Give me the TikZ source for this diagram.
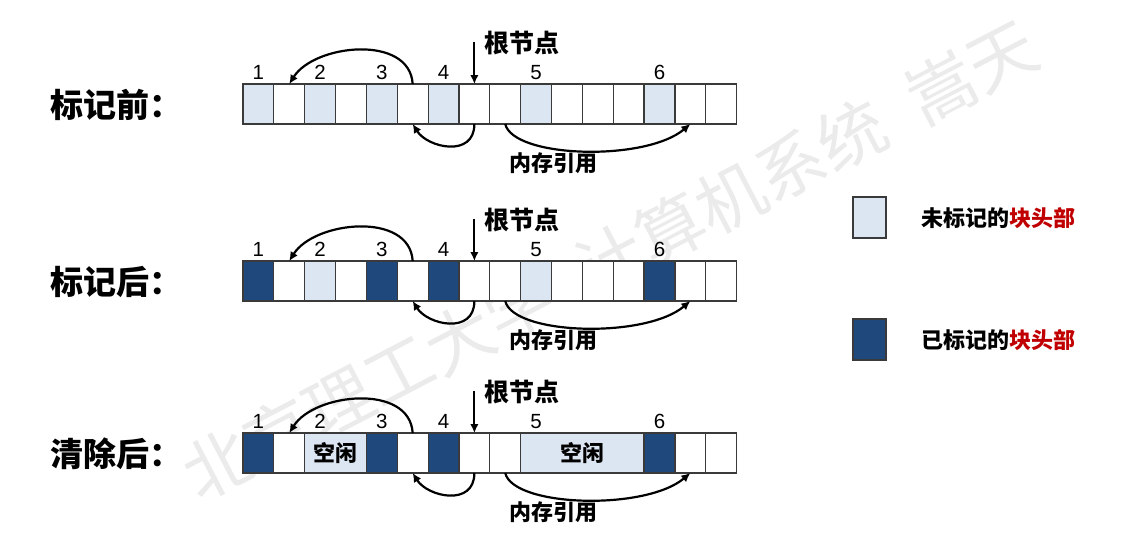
\documentclass[tikz,border=0pt]{standalone}
\usepackage{fontspec}
\setmainfont{Liberation Sans}
\newfontfamily\cjk{Noto Sans CJK SC}
\usetikzlibrary{arrows.meta}
\definecolor{lightc}{HTML}{DCE6F2}
\definecolor{darkc}{HTML}{1F497D}
\definecolor{redc}{HTML}{C00000}
\definecolor{edgec}{HTML}{3A3A3A}
\begin{document}
\begin{tikzpicture}[x=1pt,y=-1pt,
  cell/.style={draw=edgec, line width=1.2pt, minimum height=40pt, minimum width=30.85pt, inner sep=0pt, outer sep=0pt},
  ptr/.style={line width=2.2pt, -{Latex[length=9pt,width=8.5pt]}},
  digit/.style={font=\fontsize{20.5}{20.5}\selectfont, anchor=base, inner sep=0pt},
  rootlbl/.style={font=\cjk\bfseries\fontsize{25}{25}\selectfont, anchor=west, inner sep=0pt},
  reflbl/.style={font=\cjk\bfseries\fontsize{22}{22}\selectfont, inner sep=0pt},
  rowlbl/.style={font=\cjk\bfseries\fontsize{33}{33}\selectfont, anchor=west, inner sep=0pt},
  legtxt/.style={font=\cjk\bfseries\fontsize{22}{22}\selectfont, anchor=west, inner sep=0pt}
]
\useasboundingbox (0,0) rectangle (1123,533);
% watermark
\node[rotate=27.5, text=black!8, font=\cjk\fontsize{68}{68}\selectfont, inner sep=0pt] (wm) at (610,260) {北京理工大学\hspace{0.5em}计算机系统\hspace{0.5em}嵩天};

% row a : before marking
\foreach \i/\f in {0/lightc,1/white,2/lightc,3/white,4/lightc,5/white,6/lightc,7/white,8/white,9/lightc,10/white,11/white,12/white,13/lightc,14/white,15/white}
  \node[cell, fill=\f] (a\i) at ({243+(\i+0.5)*30.85},104) {};
% row b : after marking
\foreach \i/\f in {0/darkc,1/white,2/lightc,3/white,4/darkc,5/white,6/darkc,7/white,8/white,9/lightc,10/white,11/white,12/white,13/darkc,14/white,15/white}
  \node[cell, fill=\f] (b\i) at ({243+(\i+0.5)*30.85},281) {};
% row c : after sweeping
\foreach \i/\f in {0/darkc,1/white,4/darkc,5/white,6/darkc,7/white,8/white,13/darkc,14/white,15/white}
  \node[cell, fill=\f] (c\i) at ({243+(\i+0.5)*30.85},453) {};
\node[cell, fill=lightc, minimum width=61.7pt, font=\cjk\bfseries\fontsize{22}{22}\selectfont] (c23) at ({243+3*30.85},453) {空闲};
\node[cell, fill=lightc, minimum width=123.4pt, font=\cjk\bfseries\fontsize{22}{22}\selectfont] (c912) at ({243+11*30.85},453) {空闲};

\foreach \r/\d in {a/0,b/177,c/349}{
  \foreach \i/\n in {0/1,2/2,4/3,6/4,9/5,13/6}
    \node[digit] (\r n\n) at ({243+(\i+0.5)*30.85},{79+\d}) {\n};
  \node[rootlbl] (\r-root) at (484,{43+\d}) {根节点};
  \coordinate (\r-top) at ({243+7.5*30.85},{42+\d});
  \draw[ptr, line width=2pt] (\r-top) -- (\r7.north);
  \draw[ptr] (\r5.north) .. controls +(-3,-50) and +(25,-40) .. (\r1.north);
  \draw[ptr] (\r7.south) .. controls +(0,34) and +(15,24) .. (\r5.south);
  \draw[ptr] (\r8.south) .. controls +(8,34) and +(-45,38) .. (\r14.south);
  \node[reflbl] (\r-ref) at (553,{163+\d}) {内存引用};
}

\node[rowlbl] (la) at (50,105) {标记前：};
\node[rowlbl] (lb) at (50,282) {标记后：};
\node[rowlbl] (lc) at (50,454) {清除后：};

% legend
\node[cell, fill=lightc, minimum width=33pt, minimum height=41pt] (k1) at (869.5,217.5) {};
\node[cell, fill=darkc, minimum width=33pt, minimum height=41pt] (k2) at (869.5,339.5) {};
\node[legtxt] (t1) at (921,218) {未标记的\textcolor{redc}{块头部}};
\node[legtxt] (t2) at (921,340) {已标记的\textcolor{redc}{块头部}};
\end{tikzpicture}
\end{document}
